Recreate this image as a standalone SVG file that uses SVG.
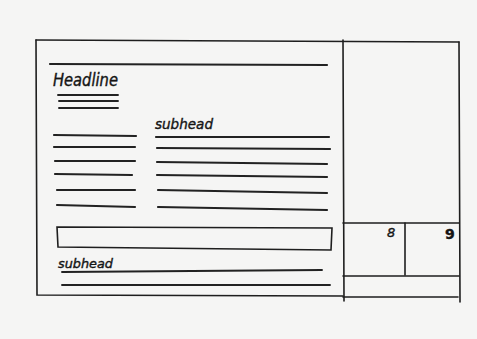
<svg xmlns="http://www.w3.org/2000/svg" width="477" height="339" viewBox="0 0 477 339">
<style>
.frame{fill:none;stroke:#1e1e1e;stroke-width:1.6;stroke-linecap:round}
.rule{fill:none;stroke:#222;stroke-width:2.2;stroke-linecap:round}
.thin{fill:none;stroke:#222;stroke-width:1.9;stroke-linecap:round}
.hand{font-family:"DejaVu Sans","Liberation Sans",sans-serif;fill:#151515;stroke:#151515;stroke-width:0.4}
</style>
<rect width="477" height="339" fill="#f5f5f4"/>
<g id="page-frame">
<path class="frame" d="M36 40 L459 42"/>
<path class="frame" d="M36 40 L37 295 L343 296"/>
<path class="frame" d="M343 40 L344 301"/>
<path class="frame" d="M459 42 L460 302"/>
<path class="frame" d="M343 223 L459 223"/>
<path class="frame" d="M405 223 L405 275"/>
<path class="frame" d="M343 276 L459 276"/>
<path class="frame" d="M343 297 L458 297"/>
</g>
<g id="main-story">
<path class="rule" d="M50 64 L327 65"/>
<text class="hand" x="53" y="86" font-size="17" textLength="65" lengthAdjust="spacingAndGlyphs" font-style="italic">Headline</text>
<path class="thin" d="M58 95 L118 95 M59 101 L118 101 M59 108 L118 108"/>
<text class="hand" x="155" y="129" font-size="14" textLength="58" lengthAdjust="spacingAndGlyphs" font-style="italic">subhead</text>
<path class="rule" d="M54 135 L136 136 M54 147 L135 147 M55 161 L135 161 M55 174 L132 175 M57 190 L135 190 M57 205 L135 207"/>
<path class="rule" d="M156 137 L329 137 M157 148 L330 149 M157 162 L327 164 M157 175 L327 177 M158 190 L327 193 M158 207 L327 210"/>
</g>
<g id="banner-box">
<path class="frame" d="M57 227 L332 228 L331 250 L58 247 Z" stroke-width="2"/>
</g>
<g id="second-story">
<text class="hand" x="58" y="268" font-size="13" textLength="55" lengthAdjust="spacingAndGlyphs" font-style="italic">subhead</text>
<path class="thin" d="M62 272 L322 270 M62 285 L330 285"/>
</g>
<g id="page-numbers">
<text class="hand" x="387" y="237" font-size="13" font-style="italic">8</text>
<text class="hand" x="445" y="239" font-size="14" font-weight="bold">9</text>
</g>
</svg>
